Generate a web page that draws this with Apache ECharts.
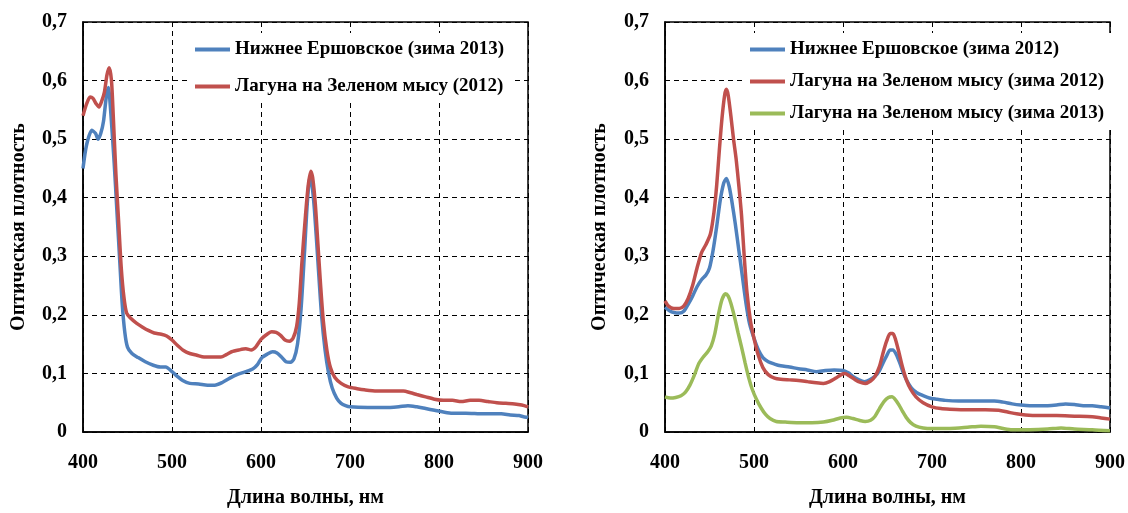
<!DOCTYPE html>
<html>
<head>
<meta charset="utf-8">
<script src="https://cdn.jsdelivr.net/npm/echarts@6/dist/echarts.min.js"></script>
<style>
  html, body { margin: 0; padding: 0; background: #fff; }
  #chart { width: 1128px; height: 513px; }
</style>
</head>
<body>
<div id="chart"></div>
<script>
// Absorption spectra: optical density vs wavelength, two panels.

// Axis ticks
const xTicks = [400, 500, 600, 700, 800, 900];
const yTicks = [0, 0.1, 0.2, 0.3, 0.4, 0.5, 0.6, 0.7];

// Left panel, series names
const leftNames = ['Нижнее Ершовское (зима 2013)', 'Лагуна на Зеленом мысу (2012)'];

// Left panel: Нижнее Ершовское (зима 2013)
const leftBlueNm = [400, 404, 410, 414, 417, 420, 423, 426, 428.5, 431, 435, 438, 441, 444, 447, 450, 455, 462, 470, 479, 487, 493, 500, 506, 512, 520, 530, 540, 548, 557, 565, 573, 583, 591, 596, 601, 607, 613, 618, 623, 628, 633, 637, 641, 645, 649, 652, 655, 657, 660, 664, 668, 672, 676, 680, 685, 690, 695, 700, 720, 745, 755, 765, 775, 785, 795, 805, 815, 830, 850, 870, 880, 890, 895, 900];
const leftBlueOd = [0.45, 0.49, 0.515, 0.51, 0.50, 0.51, 0.53, 0.57, 0.588, 0.55, 0.46, 0.38, 0.30, 0.22, 0.17, 0.145, 0.134, 0.127, 0.12, 0.114, 0.111, 0.111, 0.103, 0.095, 0.088, 0.083, 0.082, 0.080, 0.080, 0.085, 0.092, 0.098, 0.103, 0.108, 0.115, 0.127, 0.133, 0.137, 0.135, 0.128, 0.12, 0.119, 0.125, 0.15, 0.21, 0.31, 0.39, 0.435, 0.425, 0.38, 0.29, 0.2, 0.14, 0.1, 0.075, 0.058, 0.049, 0.045, 0.043, 0.042, 0.042, 0.043, 0.045, 0.043, 0.040, 0.037, 0.034, 0.032, 0.032, 0.031, 0.031, 0.029, 0.028, 0.026, 0.025];

// Left panel: Лагуна на Зеленом мысу (2012)
const leftRedNm = [400, 404, 408, 411, 415, 418, 421, 424, 427, 429.5, 432, 434, 437, 440, 443, 446, 449, 453, 460, 467, 474, 480, 488, 494, 500, 506, 513, 520, 528, 536, 545, 555, 561, 567, 575, 583, 589, 594, 600, 606, 612, 617, 622, 627, 632, 636, 640, 643, 646, 650, 653, 656, 658, 661, 664, 667, 670, 674, 678, 683, 690, 698, 708, 716, 730, 745, 760, 768, 775, 785, 795, 805, 815, 825, 835, 845, 855, 865, 875, 885, 893, 900];
const leftRedOd = [0.54, 0.56, 0.572, 0.57, 0.56, 0.555, 0.565, 0.58, 0.61, 0.622, 0.6, 0.54, 0.44, 0.36, 0.28, 0.23, 0.203, 0.195, 0.186, 0.179, 0.173, 0.169, 0.167, 0.164, 0.157, 0.148, 0.139, 0.134, 0.131, 0.128, 0.128, 0.128, 0.132, 0.137, 0.140, 0.142, 0.140, 0.145, 0.158, 0.166, 0.171, 0.170, 0.165, 0.157, 0.155, 0.16, 0.18, 0.22, 0.29, 0.37, 0.42, 0.445, 0.435, 0.39, 0.32, 0.25, 0.19, 0.14, 0.11, 0.093, 0.083, 0.077, 0.074, 0.072, 0.070, 0.070, 0.070, 0.067, 0.064, 0.060, 0.056, 0.054, 0.054, 0.052, 0.054, 0.054, 0.052, 0.05, 0.049, 0.048, 0.046, 0.043];

// Right panel, series names
const rightNames = ['Нижнее Ершовское (зима 2012)', 'Лагуна на Зеленом мысу (зима 2012)', 'Лагуна на Зеленом мысу (зима 2013)'];

// Right panel: Нижнее Ершовское (зима 2012)
const rightBlueNm = [400, 405, 410, 416, 421, 426, 431, 436, 441, 446, 450, 454, 458, 462, 466, 469, 472, 475, 479, 483, 487, 491, 495, 500, 505, 510, 516, 523, 530, 540, 550, 560, 570, 580, 590, 600, 606, 612, 618, 624, 630, 636, 641, 645, 649, 653, 656, 660, 664, 668, 672, 677, 683, 690, 697, 705, 715, 730, 750, 770, 780, 790, 800, 810, 830, 840, 850, 860, 870, 880, 890, 900];
const rightBlueOd = [0.213, 0.207, 0.204, 0.203, 0.206, 0.218, 0.232, 0.248, 0.26, 0.268, 0.28, 0.31, 0.35, 0.395, 0.425, 0.433, 0.42, 0.395, 0.355, 0.31, 0.265, 0.22, 0.185, 0.16, 0.14, 0.127, 0.12, 0.116, 0.113, 0.111, 0.108, 0.106, 0.103, 0.105, 0.106, 0.105, 0.101, 0.094, 0.089, 0.086, 0.089, 0.095, 0.105, 0.118, 0.13, 0.14, 0.14, 0.132, 0.117, 0.1, 0.087, 0.075, 0.067, 0.062, 0.058, 0.056, 0.054, 0.053, 0.053, 0.053, 0.051, 0.048, 0.046, 0.045, 0.045, 0.046, 0.048, 0.047, 0.045, 0.045, 0.043, 0.041];

// Right panel: Лагуна на Зеленом мысу (зима 2012)
const rightRedNm = [400, 404, 410, 416, 421, 426, 431, 436, 441, 446, 451, 455, 458, 461, 464, 467, 469, 471, 474, 477, 480, 483, 486, 489, 492, 496, 500, 505, 510, 516, 523, 530, 540, 550, 560, 570, 578, 585, 592, 598, 602, 607, 613, 619, 625, 631, 636, 641, 645, 649, 653, 656, 659, 663, 667, 671, 676, 682, 690, 700, 710, 720, 740, 760, 775, 785, 795, 805, 820, 840, 860, 880, 890, 900];
const rightRedOd = [0.224, 0.215, 0.211, 0.211, 0.215, 0.228, 0.25, 0.28, 0.306, 0.32, 0.338, 0.375, 0.42, 0.48, 0.535, 0.575, 0.585, 0.575, 0.54, 0.5, 0.465, 0.42, 0.37, 0.3, 0.24, 0.19, 0.16, 0.13, 0.11, 0.098, 0.092, 0.09, 0.089, 0.088, 0.086, 0.084, 0.083, 0.086, 0.092, 0.098, 0.1, 0.096, 0.09, 0.085, 0.083, 0.087, 0.095, 0.112, 0.135, 0.155, 0.168, 0.168, 0.158, 0.135, 0.11, 0.09, 0.073, 0.06, 0.05, 0.043, 0.04, 0.039, 0.038, 0.038, 0.037, 0.034, 0.031, 0.029, 0.028, 0.028, 0.027, 0.026, 0.024, 0.022];

// Right panel: Лагуна на Зеленом мысу (зима 2013)
const rightGreenNm = [400, 406, 412, 418, 423, 428, 433, 438, 443, 448, 452, 456, 460, 464, 468, 471, 474, 478, 482, 486, 490, 494, 498, 503, 508, 513, 518, 525, 535, 550, 565, 578, 588, 597, 604, 611, 618, 625, 631, 636, 641, 646, 651, 655, 659, 663, 667, 671, 676, 682, 690, 700, 720, 740, 755, 770, 780, 790, 810, 830, 845, 860, 880, 900];
const rightGreenOd = [0.06, 0.058, 0.059, 0.062, 0.068, 0.08, 0.097, 0.117, 0.128, 0.137, 0.147, 0.168, 0.2, 0.226, 0.236, 0.232, 0.22, 0.197, 0.17, 0.145, 0.118, 0.093, 0.073, 0.055, 0.041, 0.03, 0.023, 0.018, 0.017, 0.016, 0.016, 0.017, 0.02, 0.024, 0.025, 0.023, 0.02, 0.018, 0.02, 0.027, 0.04, 0.052, 0.059, 0.06, 0.055, 0.046, 0.035, 0.025, 0.016, 0.01, 0.007, 0.006, 0.006, 0.008, 0.01, 0.009, 0.006, 0.004, 0.004, 0.005, 0.007, 0.005, 0.004, 0.002];

const BLUE = '#4f81bd', RED = '#c0504d', GREEN = '#9bbb59';
const FONT = 'Liberation Serif';

function zip(xs, ys) { return xs.map((x, i) => [x, ys[i]]); }
function odLabel(v) {
  if (!yTicks.some(t => Math.abs(t - v) < 1e-9)) return '';
  return v === 0 ? '0' : v.toFixed(1).replace('.', ',');
}

const grids = [
  { left: 83, top: 22, width: 445, height: 414 },
  { left: 665, top: 22, width: 445, height: 414 }
];

function xAxisFor(i) {
  return {
    type: 'value', gridIndex: i,
    min: xTicks[0], max: xTicks[xTicks.length - 1], interval: 100,
    name: 'Длина волны, нм', nameLocation: 'middle', nameGap: 56,
    nameTextStyle: { fontFamily: FONT, fontWeight: 'bold', fontSize: 20, color: '#000' },
    axisLine: { show: true, onZero: false, lineStyle: { color: '#000', width: 1.5 } },
    axisTick: { show: false },
    axisLabel: { margin: 21, fontFamily: FONT, fontWeight: 'bold', fontSize: 20, color: '#000' },
    splitLine: { show: true, lineStyle: { color: '#000', width: 1, type: [5, 4] } }
  };
}
function yAxisFor(i, gap) {
  return {
    type: 'value', gridIndex: i,
    min: 0, max: 0.7, interval: 0.1,
    name: 'Оптическая плотность', nameLocation: 'middle', nameRotate: 90, nameGap: gap,
    nameTextStyle: { fontFamily: FONT, fontWeight: 'bold', fontSize: 20, color: '#000' },
    axisLine: { show: true, lineStyle: { color: '#000', width: 1.5 } },
    axisTick: { show: false },
    axisLabel: { margin: 16, fontFamily: FONT, fontWeight: 'bold', fontSize: 20, color: '#000', formatter: odLabel },
    splitLine: { show: true, lineStyle: { color: '#000', width: 1, type: [5, 4] } }
  };
}

function lineSeries(name, xi, color, xs, ys) {
  return {
    type: 'line', name: name, xAxisIndex: xi, yAxisIndex: xi,
    data: zip(xs, ys), showSymbol: false, smooth: 0.25,
    lineStyle: { color: color, width: 3.5 }, itemStyle: { color: color },
    z: 3
  };
}

const legendText = { fontFamily: FONT, fontWeight: 'bold', fontSize: 19, color: '#000' };

const option = {
  animation: false,
  backgroundColor: '#fff',
  grid: grids.map(g => Object.assign({ show: true, borderColor: '#000', borderWidth: 1.5, backgroundColor: 'transparent' }, g)),
  xAxis: [xAxisFor(0), xAxisFor(1)],
  yAxis: [yAxisFor(0, 54), yAxisFor(1, 55)],
  legend: [
    {
      data: leftNames, orient: 'vertical', left: 187, top: 33,
      itemWidth: 35, itemHeight: 4, itemGap: 18, icon: 'rect',
      backgroundColor: '#fff', padding: [7, 8, 7, 8],
      textStyle: legendText
    },
    {
      data: rightNames, orient: 'vertical', left: 742, top: 33,
      itemWidth: 35, itemHeight: 4, itemGap: 13, icon: 'rect',
      backgroundColor: '#fff', padding: [7, 8, 7, 8],
      textStyle: legendText
    }
  ],
  series: [
    lineSeries(leftNames[0], 0, BLUE, leftBlueNm, leftBlueOd),
    lineSeries(leftNames[1], 0, RED, leftRedNm, leftRedOd),
    lineSeries(rightNames[0], 1, BLUE, rightBlueNm, rightBlueOd),
    lineSeries(rightNames[1], 1, RED, rightRedNm, rightRedOd),
    lineSeries(rightNames[2], 1, GREEN, rightGreenNm, rightGreenOd)
  ]
};

const chart = echarts.init(document.getElementById('chart'), null, { renderer: 'canvas' });
chart.setOption(option);
</script>
</body>
</html>
